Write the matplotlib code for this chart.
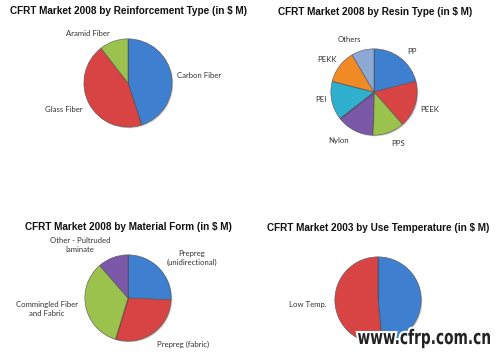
import matplotlib.pyplot as plt
import matplotlib.patheffects as pe
from matplotlib.textpath import TextPath
from matplotlib.patches import PathPatch
from matplotlib.font_manager import FontProperties
from matplotlib.transforms import Affine2D, IdentityTransform

W, H = 500, 356

# chart data (in $ M shares)
reinf_labels = ["Carbon Fiber", "Glass Fiber", "Aramid Fiber"]
reinf_values = [45.0, 44.5, 10.5]

resin_labels = ["PP", "PEEK", "PPS", "Nylon", "PEI", "PEKK", "Others"]
resin_values = [21.0, 17.5, 12.0, 14.0, 14.5, 12.5, 8.5]

form_labels = ["Prepreg\n(unidirectional)", "Prepreg (fabric)",
               "Commingled Fiber\nand Fabric", "Other - Pultruded\nlaminate"]
form_values = [25.7, 29.0, 33.9, 11.4]

temp_labels = ["", "Low Temp."]
temp_values = [48.6, 51.4]

BLUE = "#3f7fd0"
RED = "#d84444"
GREEN = "#9cc24e"
PURPLE = "#7b58a8"
AQUA = "#2fb0cf"
ORANGE = "#f08a24"
LIGHTBLUE = "#8ea8d6"

charts = [
    dict(title="CFRT Market 2008 by Reinforcement Type (in $ M)", tpos=(128, 11),
         center=(128, 83), r=45, values=reinf_values, labels=reinf_labels,
         colors=[BLUE, RED, GREEN],
         lpos=[(199, 76), (64, 109), (88, 33)]),
    dict(title="CFRT Market 2008 by Resin Type (in $ M)", tpos=(375, 12),
         center=(374, 92), r=44, values=resin_values, labels=resin_labels,
         colors=[BLUE, RED, GREEN, PURPLE, AQUA, ORANGE, LIGHTBLUE],
         lpos=[(412, 52), (430, 109), (398, 144), (339, 140), (321, 100),
               (327, 59), (349, 39)]),
    dict(title="CFRT Market 2008 by Material Form (in $ M)", tpos=(128, 227),
         center=(128, 298), r=44, values=form_values, labels=form_labels,
         colors=[BLUE, RED, GREEN, PURPLE],
         lpos=[(192, 258), (183, 344), (47, 309), (80, 245)]),
    dict(title="CFRT Market 2003 by Use Temperature (in $ M)", tpos=(378, 228),
         center=(378, 300), r=44, values=temp_values, labels=temp_labels,
         colors=[BLUE, RED],
         lpos=[(420, 304), (308, 304)]),
]

fig = plt.figure(figsize=(W / 100, H / 100), dpi=100)
fig.patch.set_facecolor("white")

for c in charts:
    cx, cy = c["center"]
    r = c["r"]
    ax = fig.add_axes([(cx - r) / W, 1 - (cy + r) / H, 2 * r / W, 2 * r / H])
    wedges, _ = ax.pie(c["values"], colors=c["colors"], startangle=90,
                       counterclock=False, radius=1.0,
                       wedgeprops=dict(edgecolor="#555555", linewidth=0.4))
    for w in wedges:
        w.set_path_effects([pe.withSimplePatchShadow(offset=(0.8, -0.8),
                                                     alpha=0.25)])
    ax.set_xlim(-1.02, 1.02)
    ax.set_ylim(-1.02, 1.02)
    ax.set_aspect("equal")
    ax.axis("off")

    tx, ty = c["tpos"]
    fig.text(tx / W, 1 - ty / H, c["title"], ha="center", va="center",
             fontsize=7.2, fontweight="bold", family="Liberation Sans",
             color="#111111")
    for lab, (lx, ly) in zip(c["labels"], c["lpos"]):
        if lab:
            fig.text(lx / W, 1 - ly / H, lab, ha="center", va="center",
                     fontsize=5.6, family="Lato", color="#333333",
                     linespacing=1.3)

# watermark: heavy, squeezed lettering
wm = TextPath((0, 0), "www.cfrp.com.cn", size=20,
              prop=FontProperties(family="DejaVu Sans", weight="bold",
                                  stretch="condensed"))
bb = wm.get_extents()
sx = 132 / bb.width
tr = Affine2D().scale(sx, 1.0).translate(358 - bb.x0 * sx, H - 344)
patch = PathPatch(wm, facecolor="#222222", edgecolor="none",
                  transform=tr + IdentityTransform())
patch.set_path_effects([pe.Stroke(linewidth=3, foreground="white"), pe.Normal()])
fig.add_artist(patch)

fig.savefig("out.png", dpi=100)
